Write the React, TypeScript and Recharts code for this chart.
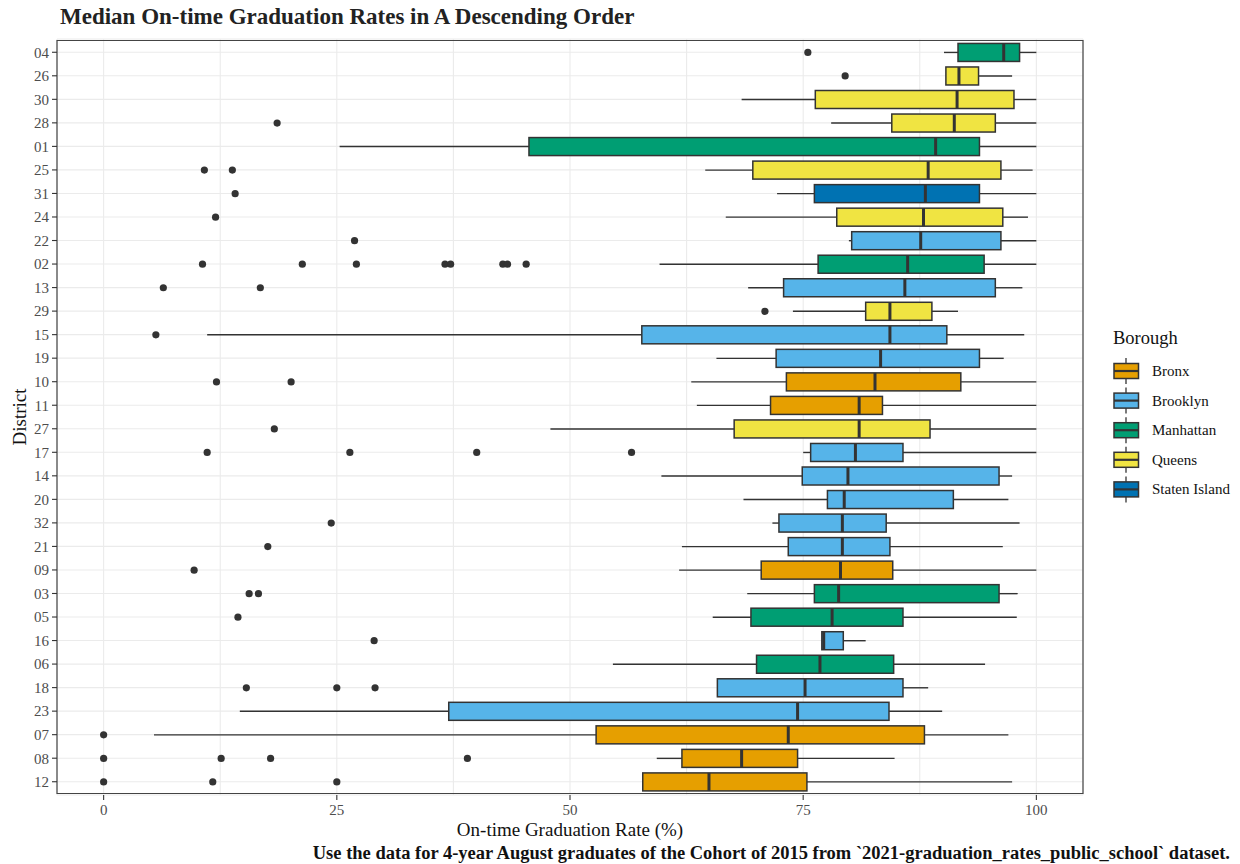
import React from "react";
import {
  ComposedChart,
  Bar,
  XAxis,
  YAxis,
  CartesianGrid,
  ReferenceArea,
} from "recharts";

// districts sorted by median, top to bottom
const districts = [
  "04", "26", "30", "28", "01", "25", "31", "24", "22", "02", "13", "29", "15", "19", "10", "11",
  "27", "17", "14", "20", "32", "21", "09", "03", "05", "16", "06", "18", "23", "07", "08", "12",
];
const boroughs = [
  "Manhattan", "Queens", "Queens", "Queens", "Manhattan", "Queens", "Staten Island", "Queens",
  "Brooklyn", "Manhattan", "Brooklyn", "Queens", "Brooklyn", "Brooklyn", "Bronx", "Bronx",
  "Queens", "Brooklyn", "Brooklyn", "Brooklyn", "Brooklyn", "Brooklyn", "Bronx", "Manhattan",
  "Manhattan", "Brooklyn", "Manhattan", "Brooklyn", "Brooklyn", "Bronx", "Bronx", "Bronx",
];
const whiskerLow = [
  90.1, 90.3, 68.4, 78.0, 25.3, 64.5, 72.2, 66.7, 79.9, 59.6, 69.1, 73.9, 11.1, 65.7, 63.0, 63.6,
  47.9, 75.0, 59.8, 68.6, 71.7, 62.0, 61.7, 69.0, 65.3, 77.0, 54.6, 65.8, 14.6, 5.4, 59.3, 57.8,
];
const q1 = [
  91.6, 90.3, 76.3, 84.5, 45.6, 69.6, 76.2, 78.6, 80.2, 76.6, 72.9, 81.7, 57.7, 72.1, 73.2, 71.5,
  67.6, 75.8, 74.9, 77.6, 72.4, 73.4, 70.5, 76.2, 69.4, 77.0, 70.0, 65.8, 37.0, 52.8, 62.0, 57.8,
];
const medians = [
  96.5, 91.7, 91.5, 91.2, 89.2, 88.4, 88.1, 87.9, 87.6, 86.2, 85.9, 84.3, 84.3, 83.3, 82.7, 81.0,
  81.0, 80.6, 79.8, 79.4, 79.2, 79.2, 79.0, 78.8, 78.1, 77.2, 76.8, 75.2, 74.4, 73.4, 68.4, 64.9,
];
const q3 = [
  98.2, 93.8, 97.6, 95.6, 93.9, 96.2, 93.9, 96.4, 96.2, 94.4, 95.6, 88.8, 90.4, 93.9, 91.9, 83.5,
  88.6, 85.7, 96.0, 91.1, 83.9, 84.3, 84.6, 96.0, 85.7, 79.3, 84.7, 85.7, 84.2, 88.0, 74.4, 75.4,
];
const whiskerHigh = [
  100, 97.4, 100, 100, 100, 99.6, 100, 99.1, 100, 100, 98.5, 91.6, 98.7, 96.5, 100, 100,
  100, 100, 97.4, 97.0, 98.2, 96.4, 100, 98.0, 97.9, 81.7, 94.5, 88.4, 89.9, 97.0, 84.8, 97.4,
];
const outliers: number[][] = [
  [75.5], [79.5], [], [18.6], [], [10.8, 13.8], [14.1], [12.0],
  [26.9], [10.6, 21.3, 27.1, 36.6, 37.2, 42.8, 43.3, 45.3], [6.4, 16.8], [70.9], [5.6], [], [12.1, 20.1], [],
  [18.3], [11.1, 26.4, 40.0, 56.6], [], [], [24.4], [17.6], [9.7], [15.6, 16.6],
  [14.4], [29.0], [], [15.3, 25.0, 29.1], [], [0], [0, 12.6, 17.9, 39.0], [0, 11.7, 25.0],
];

const boroughNames = ["Bronx", "Brooklyn", "Manhattan", "Queens", "Staten Island"];
const boroughColors = ["#E69F00", "#56B4E9", "#009E73", "#F0E442", "#0072B2"];

const xDomain = [-5, 105];
const majorTicks = [0, 25, 50, 75, 100];
const gridTicks = [0, 12.5, 25, 37.5, 50, 62.5, 75, 87.5, 100];

const FONT = "'Liberation Serif', 'Times New Roman', serif";
const INK = "#333333";

const rows = districts.map((d, i) => {
  const all = [whiskerLow[i], whiskerHigh[i], ...outliers[i]];
  return {
    district: d,
    borough: boroughs[i],
    low: whiskerLow[i],
    q1: q1[i],
    median: medians[i],
    q3: q3[i],
    high: whiskerHigh[i],
    outliers: outliers[i],
    range: [Math.min(...all), Math.max(...all)],
  };
});

function colorOf(b: string) {
  return boroughColors[boroughNames.indexOf(b)];
}

// box + whiskers + outliers, positioned from the bar's own scaled extent
function BoxShape(props: any) {
  const { x, y, width, height, payload } = props;
  if (!payload) return <g />;
  const [lo, hi] = payload.range;
  const px = (v: number) => x + ((v - lo) / (hi - lo)) * width;
  const cy = y + height / 2;
  return (
    <g>
      <line x1={px(payload.low)} x2={px(payload.q1)} y1={cy} y2={cy} stroke={INK} strokeWidth={1.4} />
      <line x1={px(payload.q3)} x2={px(payload.high)} y1={cy} y2={cy} stroke={INK} strokeWidth={1.4} />
      <rect
        x={px(payload.q1)}
        y={y}
        width={px(payload.q3) - px(payload.q1)}
        height={height}
        fill={colorOf(payload.borough)}
        stroke={INK}
        strokeWidth={1.5}
      />
      <line x1={px(payload.median)} x2={px(payload.median)} y1={y} y2={y + height} stroke={INK} strokeWidth={3} />
      {payload.outliers.map((o: number, k: number) => (
        <circle key={k} cx={px(o)} cy={cy} r={3.6} fill={INK} />
      ))}
    </g>
  );
}

function XTick({ x, y, payload }: any) {
  if (!majorTicks.includes(payload.value)) return <g />;
  return (
    <g>
      <line x1={x} x2={x} y1={y - 10} y2={y - 5} stroke={INK} strokeWidth={1.1} />
      <text x={x} y={y + 10} textAnchor="middle" fill="#4d4d4d" fontSize={15} fontFamily={FONT}>
        {payload.value}
      </text>
    </g>
  );
}

function Legend() {
  return (
    <svg width={1240} height={864} style={{ position: "absolute", left: 0, top: 0, pointerEvents: "none" }}>
      <text x={60} y={24} fontSize={23} fontWeight="bold" fontFamily={FONT} fill="#222">
        Median On-time Graduation Rates in A Descending Order
      </text>
      <text x={1230} y={859} textAnchor="end" fontSize={18.5} fontWeight="bold" fontFamily={FONT} fill="#111">
        Use the data for 4-year August graduates of the Cohort of 2015 from `2021-graduation_rates_public_school` dataset.
      </text>
      <text x={1113} y={344} fontSize={18.5} fontFamily={FONT} fill="#111">
        Borough
      </text>
      {boroughNames.map((b, i) => {
        const cy = 371 + i * 29.6;
        return (
          <g key={b}>
            <line x1={1126} x2={1126} y1={cy - 13} y2={cy + 13} stroke={INK} strokeWidth={1.3} />
            <rect x={1114} y={cy - 7.5} width={24.5} height={15} fill={boroughColors[i]} stroke={INK} strokeWidth={1.5} />
            <line x1={1114} x2={1138.5} y1={cy} y2={cy} stroke={INK} strokeWidth={2.2} />
            <text x={1152} y={cy + 5} fontSize={15} fontFamily={FONT} fill="#111">
              {b}
            </text>
          </g>
        );
      })}
    </svg>
  );
}

export default function App() {
  return (
    <div style={{ position: "absolute", left: 0, top: 0, width: 1240, height: 864, background: "#fff" }}>
      <ComposedChart
        width={1240}
        height={864}
        data={rows}
        layout="vertical"
        margin={{ top: 39, right: 157, bottom: 24, left: 7 }}
        barCategoryGap="12.5%"
      >
        <CartesianGrid stroke="#ebebeb" strokeWidth={1.1} />
        <XAxis
          type="number"
          dataKey="median"
          domain={xDomain}
          ticks={gridTicks}
          interval={0}
          allowDataOverflow
          axisLine={false}
          tickLine={false}
          tickSize={4}
          tickMargin={6}
          height={45}
          tick={<XTick />}
          label={(p: any) => {
            const vb = p.viewBox;
            return (
              <text x={vb.x + vb.width / 2} y={vb.y + 41} textAnchor="middle" fontSize={19} fontFamily={FONT} fill="#111">
                On-time Graduation Rate (%)
              </text>
            );
          }}
        />
        <YAxis
          type="category"
          dataKey="district"
          width={50}
          interval={0}
          axisLine={false}
          tickSize={5}
          tickMargin={3}
          padding={{ top: 1.5, bottom: 1.5 }}
          tickLine={{ stroke: INK, strokeWidth: 1.1 }}
          tick={{ fill: "#4d4d4d", fontSize: 15, fontFamily: FONT }}
          label={(p: any) => {
            const vb = p.viewBox;
            const cx = vb.x + 12;
            const cy = vb.y + vb.height / 2;
            return (
              <text x={cx} y={cy} transform={`rotate(-90 ${cx} ${cy})`} textAnchor="middle" dominantBaseline="central" fontSize={19} fontFamily={FONT} fill="#111">
                District
              </text>
            );
          }}
        />
        <Bar dataKey="range" isAnimationActive={false} shape={BoxShape} />
        <ReferenceArea x1={xDomain[0]} x2={xDomain[1]} fill="none" stroke="#444" strokeWidth={1.2} ifOverflow="visible" />
      </ComposedChart>
      <Legend />
    </div>
  );
}
